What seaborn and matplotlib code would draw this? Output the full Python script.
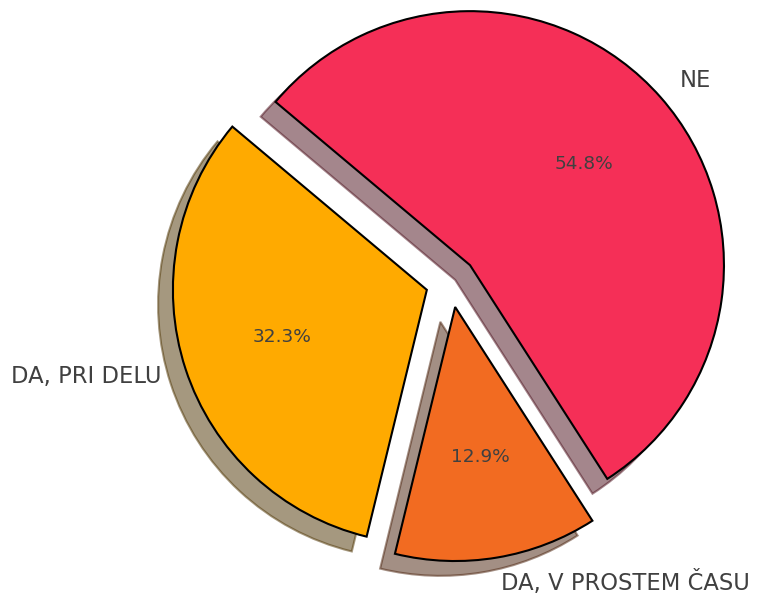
import matplotlib
matplotlib.use("Agg")
import matplotlib.pyplot as plt
import seaborn as sns

labels = ["DA, PRI DELU", "DA, V PROSTEM ČASU", "NE"]
values = [32.3, 12.9, 54.8]
colors = ["#FFAA00", "#F26B21", "#F52F57"]
explode = [0.1, 0.1, 0.1]

sns.set_style("white")
plt.rcParams["font.family"] = ["DejaVu Sans"]

fig = plt.figure(figsize=(7.6, 6.01), dpi=100)
ax = fig.add_axes([0, 0, 1, 1])

wedges, texts, autotexts = ax.pie(
    values,
    labels=labels,
    colors=colors,
    explode=explode,
    startangle=140,
    autopct="%1.1f%%",
    shadow={"ox": -0.042, "oy": -0.042},
    wedgeprops={"edgecolor": "black", "linewidth": 1.5},
    textprops={"color": "#404040"},
)
for t in texts:
    t.set_fontsize(16.3)
for t in autotexts:
    t.set_fontsize(13.3)

ax.set_aspect("auto")
ax.set_xlim(-1.776, 1.217)
ax.set_ylim(-1.256, 1.110)
ax.axis("off")

fig.savefig("out.png", dpi=100)
